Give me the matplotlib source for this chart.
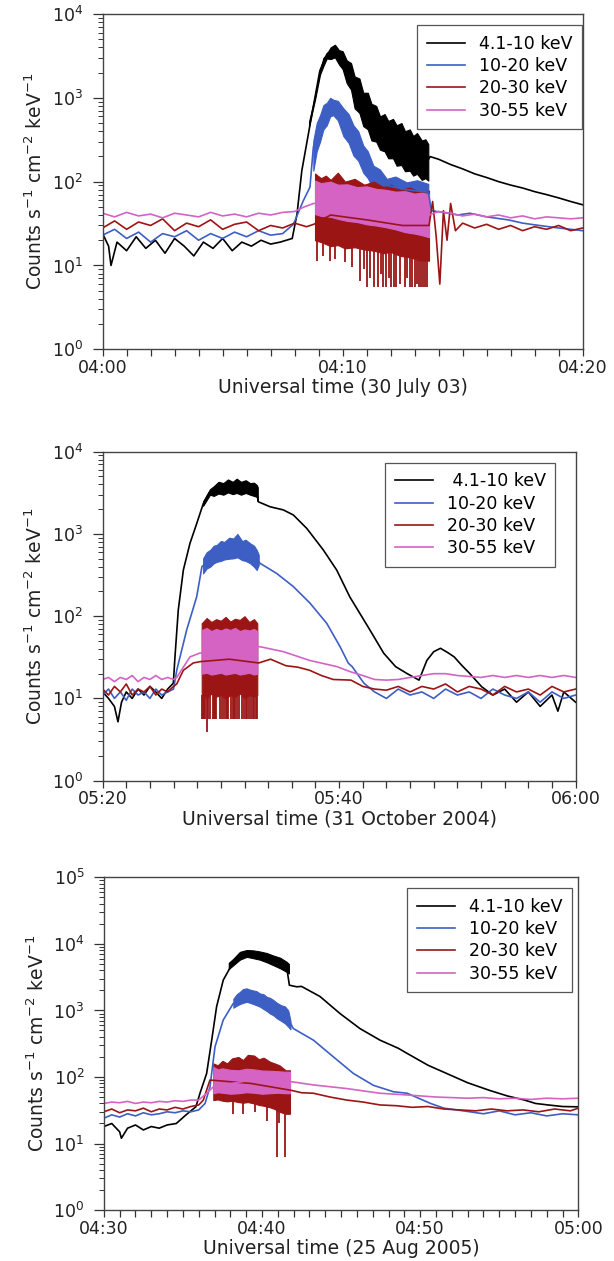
import numpy as np
import matplotlib
matplotlib.use("Agg")
import matplotlib.pyplot as plt
from matplotlib.ticker import FixedLocator, LogLocator, NullFormatter

plt.rcParams['font.family'] = ['DejaVu Sans']
plt.rcParams['mathtext.fontset'] = 'dejavusans'

C_BLACK = '#000000'
C_BLUE = '#3d5fc4'
C_RED = '#9b1515'
C_PINK = '#d463c4'

channels = ['4.1-10 keV', '10-20 keV', '20-30 keV', '30-55 keV']

# ---------------- panel 1: 30 July 2003, minutes after 04:00 ----------------
p1_black_t = [0, .25, .35, .6, 1, 1.4, 1.8, 2.2, 2.6, 3, 3.4, 3.8, 4.2, 4.6, 5, 5.4, 5.8, 6.2, 6.6, 7, 7.4, 7.9,
              8.1, 8.3, 8.65, 8.85, 9.05, 9.35, 9.65, 10.2, 10.9, 11.6, 12.3, 12.9, 13.55, 13.65, 14, 14.5, 15,
              15.5, 16, 16.5, 17, 17.5, 18, 18.5, 19, 19.5, 20]
p1_black_y = [24, 17, 10, 19, 15, 22, 16, 20, 14, 21, 17, 13, 19, 16, 21, 15, 19, 17, 20, 18, 19, 21,
              41, 135, 490, 1020, 2100, 3340, 4000, 2200, 850, 420, 290, 220, 180, 199, 185, 160, 142,
              124, 112, 100, 91, 84, 76, 70, 64, 58, 53]
p1_black_band_t = [8.6, 8.85, 9.06, 9.2, 9.34, 9.5, 9.68, 9.85, 10.0, 10.17, 10.35, 10.5, 10.7, 10.86, 11.05,
                   11.2, 11.4, 11.56, 11.75, 11.9, 12.1, 12.25, 12.45, 12.6, 12.8, 12.94, 13.1, 13.3, 13.45, 13.57]
p1_black_band_hi = [520, 1050, 2150, 3000, 3300, 4000, 4300, 3700, 3600, 2800, 2600, 1800, 1700, 1150, 1150,
                    850, 800, 600, 640, 530, 560, 470, 500, 400, 420, 350, 380, 310, 320, 280]
p1_black_band_lo = [460, 950, 1900, 2400, 2950, 2900, 3040, 2500, 2200, 1500, 1250, 750, 660, 460, 420,
                    310, 300, 240, 230, 190, 190, 155, 158, 133, 135, 118, 124, 105, 110, 103]

p1_blue_t = [0, .5, 1, 1.5, 2, 2.5, 3, 3.5, 4, 4.5, 5, 5.5, 6, 6.5, 7, 7.5, 7.95, 8.36, 8.64, 8.78, 9.06,
             9.34, 9.61, 10.03, 10.45, 10.86, 11.28, 11.84, 12.67, 13.57, 13.7, 14.2, 14.8, 15.3, 16, 16.9,
             17.5, 18.2, 19, 19.5, 20]
p1_blue_y = [23, 27, 21, 25, 19, 24, 22, 26, 20, 24, 21, 25, 22, 26, 23, 24, 31, 59, 86, 257, 550,
             780, 870, 600, 320, 200, 120, 90, 80, 75, 45, 43, 40, 42, 38, 35, 32, 30, 28, 27, 26]
p1_blue_band_t = [8.78, 8.92, 9.06, 9.2, 9.34, 9.48, 9.61, 9.8, 10.03, 10.25, 10.45, 10.65, 10.86, 11.05,
                  11.28, 11.55, 11.84, 12.2, 12.67, 13.1, 13.57]
p1_blue_band_hi = [309, 500, 620, 820, 870, 1000, 950, 920, 750, 640, 470, 400, 270, 230, 155, 140, 108,
                   115, 98, 104, 94]
p1_blue_band_lo = [135, 230, 300, 420, 470, 600, 620, 540, 350, 290, 205, 178, 128, 110, 82, 80, 68, 70,
                   62, 64, 59]

p1_red_t = [0, .5, 1, 1.5, 2, 2.5, 3, 3.5, 4, 4.5, 5, 5.5, 6, 6.5, 7, 7.5, 8, 8.5, 8.8, 9.5, 11, 12.5,
            13.6, 13.75, 13.9, 14.05, 14.2, 14.35, 14.5, 14.7, 15, 15.5, 16, 16.5, 17, 17.5, 18, 18.5, 19,
            19.5, 20]
p1_red_y = [28, 34, 27, 33, 30, 36, 26, 32, 29, 35, 27, 31, 33, 26, 30, 28, 32, 29, 31, 40, 35, 30,
            30, 58, 22, 6, 45, 20, 55, 26, 32, 28, 31, 27, 30, 26, 29, 27, 30, 26, 28]
p1_red_band_t = [8.85, 9.1, 9.3, 9.5, 9.8, 10.1, 10.5, 10.9, 11.3, 11.7, 12, 12.4, 12.8, 13.2, 13.6]
p1_red_band_hi = [125, 110, 118, 105, 128, 100, 108, 92, 100, 86, 92, 80, 85, 76, 78]
p1_red_band_lo = [20, 19, 18, 17, 17.5, 16, 16.5, 15.5, 15, 14, 14.5, 13, 12.5, 11.5, 11.4]
p1_red_spike_t = [8.95, 9.2, 9.47, 9.7, 10.1, 10.4, 10.73, 10.9, 11.0, 11.15, 11.3, 11.49, 11.6, 11.7, 11.82,
                  11.95, 12.03, 12.15, 12.24, 12.4, 12.58, 12.7, 12.79, 12.9, 13.0, 13.1, 13.18, 13.28,
                  13.35, 13.45, 13.51]
p1_red_spike_y = [11.4, 13, 11.4, 12, 11, 9.5, 6.6, 9, 5.5, 7, 5.5, 5.5, 8, 5.5, 5.5,
                  7, 5.5, 5.5, 5.5, 6, 5.5, 7, 5.5, 5.5, 5.5, 6, 5.5, 5.5,
                  5.5, 5.5, 5.5]

p1_pink_t = [0, .5, 1, 1.5, 2, 2.5, 3, 3.5, 4, 4.5, 5, 5.5, 6, 6.5, 7, 7.5, 8, 8.4, 8.8, 11, 13.6, 14,
             14.5, 15, 15.5, 16, 16.5, 17, 17.5, 18, 18.5, 19, 19.5, 20]
p1_pink_y = [42, 38, 43, 39, 41, 37, 42, 40, 38, 43, 39, 41, 38, 42, 40, 43, 44, 50, 55, 50, 40, 44,
             42, 39, 41, 38, 40, 37, 39, 36, 38, 37, 36, 37]
p1_pink_band_t = [8.85, 9.1, 9.5, 9.8, 10.2, 10.6, 11, 11.4, 11.8, 12.2, 12.6, 13.0, 13.3, 13.6]
p1_pink_band_hi = [103, 96, 100, 92, 93, 86, 88, 82, 80, 76, 77, 72, 74, 71]
p1_pink_band_lo = [41, 39, 38, 36, 34, 33, 31, 30, 28.6, 27, 25, 24, 23, 21.7]

# ---------------- panel 2: 31 October 2004, minutes after 05:20 ----------------
p2_black_t = [0, .5, 1, 1.3, 1.6, 2, 2.5, 3, 3.5, 4, 4.5, 5, 5.5, 5.98, 6.12, 6.4, 6.83, 7.39, 7.96, 8.52,
              9.08, 10.2, 11.3, 12.5, 13.03, 13.17, 14.16, 15.28, 16.13, 17.26, 18.66, 19.8, 20.9, 22.45,
              23.77, 24.77, 25.76, 26.76, 27.42, 28.0, 28.57, 29.2, 29.73, 30.4, 31.06, 32.05, 33, 34, 35,
              36, 37, 38, 38.5, 39, 40]
p2_black_y = [12, 10, 8, 5.2, 9, 12, 10, 13, 11, 14, 12, 10, 13, 15.3, 32, 119, 365, 770, 1340, 2350,
              3250, 3600, 3700, 3600, 3300, 2460, 2140, 1960, 1700, 1170, 640, 363, 172, 74,
              35.5, 24.4, 20, 16.7, 29, 37, 40.7, 36, 32, 25, 20, 13.9, 11, 13, 9,
              12, 8, 11, 7, 12, 9]
p2_black_band_t = [8.5, 9.08, 9.4, 9.8, 10.21, 10.6, 11.0, 11.34, 11.7, 12.1, 12.47, 12.8, 13.03, 13.12]
p2_black_band_hi = [2500, 3500, 3800, 4300, 4150, 4600, 4300, 4700, 4300, 4500, 4150, 4200, 3940, 3700]
p2_black_band_lo = [2200, 3000, 2900, 3100, 3000, 3200, 3050, 3150, 3000, 3150, 3000, 2900, 2830, 2500]

p2_blue_t = [0, .5, 1, 1.5, 2, 2.5, 3, 3.5, 4, 4.5, 5, 5.5, 6, 6.27, 7.11, 7.96, 8.4, 9.65, 11.06, 12.47,
             13.03, 13.31, 14.72, 16.13, 17.54, 18.95, 20.08, 20.78, 21.1, 22.1, 23, 24, 25, 26, 27, 28,
             29, 30, 31, 32, 33, 34, 35, 36, 37, 38, 39, 40]
p2_blue_y = [11, 13, 10, 12, 9.5, 13, 11, 12, 10, 13, 11, 12, 13, 22, 68, 173, 400, 600, 700, 600,
             500, 440, 331, 229, 144, 82, 42.6, 26.8, 24.4, 15.3, 12, 10, 13, 11, 12, 10,
             13, 11, 12, 10, 13, 11, 10, 12, 9, 12, 10, 11]
p2_blue_band_t = [8.5, 8.8, 9.1, 9.4, 9.65, 10.0, 10.3, 10.7, 11.06, 11.4, 11.8, 12.1, 12.47, 12.8, 13.03, 13.2]
p2_blue_band_hi = [505, 600, 640, 720, 735, 820, 800, 900, 880, 1000, 820, 850, 770, 720, 640, 560]
p2_blue_band_lo = [331, 380, 400, 440, 458, 470, 490, 500, 505, 520, 480, 470, 440, 400, 364, 420]

p2_red_t = [0, .5, 1, 1.5, 2, 2.5, 3, 3.5, 4, 4.5, 5, 5.5, 6, 6.27, 6.83, 7.67, 8.24, 10.7, 13.2, 14.2,
            15.5, 16.5, 17.5, 18.5, 19.5, 21, 22, 23, 24, 25, 26, 27, 28, 29, 30, 31, 32, 33, 34, 35,
            36, 37, 38, 39, 40]
p2_red_y = [13, 11, 14, 12, 15, 11, 13, 12, 14, 11, 13, 12, 14, 15, 22, 27, 28, 30, 27, 30,
            25, 24, 22, 19, 17, 16.7, 14, 13, 12.6, 14, 12, 14, 13, 15, 12, 14, 13, 11, 14, 12,
            13, 11, 14, 12, 13]
p2_red_band_t = [8.38, 8.8, 9.2, 9.6, 10.0, 10.4, 10.8, 11.2, 11.6, 12.0, 12.4, 12.8, 13.08]
p2_red_band_hi = [82, 95, 85, 92, 88, 98, 86, 93, 90, 100, 85, 92, 82]
p2_red_band_lo = [11, 10, 11.5, 10.5, 11, 10, 11, 10.5, 11.5, 10, 11, 10.5, 11]
p2_red_spike_t = [8.42, 8.5, 8.6, 8.7, 8.8, 8.95, 9.1, 9.3, 9.4, 9.5, 9.62, 9.9, 10.1, 10.25, 10.4, 10.5,
                  10.6, 10.9, 11.0, 11.1, 11.2, 11.4, 11.56, 11.8, 11.96, 12.1, 12.24, 12.4, 12.52, 12.7,
                  12.8, 12.95, 13.03]
p2_red_spike_y = [5.7, 5.7, 5.7, 5.7, 3.9, 5.7, 5.7, 5.7, 5.7, 5.7, 5.7, 5.7, 5.7, 5.7, 5.7, 5.7,
                  5.7, 5.7, 5.7, 5.7, 5.7, 5.7, 5.7, 5.7, 5.7, 5.7, 5.7, 5.7, 5.7, 5.7,
                  5.7, 5.7, 5.7]

p2_pink_t = [0, .5, 1, 1.5, 2, 2.5, 3, 3.5, 4, 4.5, 5, 5.5, 6, 6.27, 7.39, 8.2, 10.7, 13.3, 15.3, 17.5,
             19.8, 21, 22, 23, 24, 25, 26, 27, 28, 29, 30, 31, 32, 33, 34, 35, 36, 37, 38, 39, 40]
p2_pink_y = [17, 18, 16, 18, 17, 19, 16, 18, 17, 19, 17, 18, 17, 18, 32, 35.5, 40, 42.6, 37, 29,
             24.4, 21, 19, 17, 16.7, 17, 18, 19, 20, 20, 19, 18.5, 18, 19, 18, 19, 18, 19, 18, 19, 18]
p2_pink_band_t = [8.38, 8.8, 9.2, 9.6, 10.0, 10.4, 10.8, 11.2, 11.6, 12.0, 12.4, 12.8, 13.08]
p2_pink_band_hi = [68, 72, 66, 70, 67, 71, 68, 72, 66, 69, 67, 70, 66]
p2_pink_band_lo = [20, 20.5, 19.5, 20, 20.5, 19.5, 20, 20.5, 19.5, 20, 20.5, 19.5, 20]

# ---------------- panel 3: 25 August 2005, minutes after 04:30 ----------------
p3_black_t = [0, .5, 1, 1.11, 1.5, 2, 2.5, 3, 3.5, 4, 4.58, 5.2, 5.82, 6.08, 6.5, 6.82, 7.13, 7.55, 8.19,
              9.03, 9.87, 10.71, 11.56, 11.73, 12.19, 12.5, 13.67, 14.93, 16.19, 17.46, 18.62, 19.18, 20.5,
              21.9, 23, 24.38, 25.5, 26.6, 27.3, 28.09, 29, 30]
p3_black_y = [18, 20, 15, 12, 17, 19, 16, 18, 17, 19, 20, 27, 35.7, 57, 113, 358, 1140, 2860, 5370,
              7200, 6800, 5700, 4500, 2400, 2270, 2300, 1620, 900, 535, 358, 270, 226, 150,
              107, 82, 63, 52, 45, 40, 38, 36, 35.6]
p3_black_band_t = [7.9, 8.19, 8.6, 9.03, 9.45, 9.87, 10.3, 10.71, 11.15, 11.56, 11.7]
p3_black_band_hi = [5200, 6000, 7600, 8100, 8000, 7700, 7300, 6700, 6200, 5370, 5000]
p3_black_band_lo = [4200, 4800, 5800, 6400, 6100, 5800, 5300, 4800, 4300, 3800, 3600]

p3_blue_t = [0, .5, 1, 1.5, 2, 2.5, 3, 3.5, 4, 4.5, 5, 5.5, 6, 6.4, 6.71, 7.03, 7.55, 8.19, 9.87, 11.66,
             11.98, 13.25, 14.51, 15.78, 17.04, 18.31, 19.18, 20.66, 21.5, 22.3, 23.14, 24, 25, 26, 27,
             28, 29, 30]
p3_blue_y = [24, 27, 25, 28, 26, 29, 27, 28, 30, 29, 31, 30, 32, 40, 71, 285, 720, 1280, 1450, 750,
             535, 358, 201, 113, 75, 60, 57, 40, 34, 32, 30, 28, 31, 27, 29,
             26, 28, 27]
p3_blue_band_t = [8.19, 8.4, 8.6, 8.8, 9.03, 9.25, 9.45, 9.65, 9.87, 10.1, 10.3, 10.5, 10.71, 10.95, 11.2,
                  11.45, 11.66, 11.8]
p3_blue_band_hi = [1500, 1750, 1900, 2100, 2150, 2050, 2000, 1950, 1800, 1750, 1600, 1550, 1440, 1300, 1200,
                   1150, 1000, 700]
p3_blue_band_lo = [1100, 1180, 1250, 1300, 1350, 1300, 1250, 1200, 1140, 1050, 980, 900, 850, 760, 700,
                   640, 570, 520]

p3_red_t = [0, .5, 1, 1.5, 2, 2.5, 3, 3.5, 4, 4.5, 5, 5.5, 6, 6.29, 6.71, 9.3, 11.85, 12.5, 13.25, 14.3,
            15.36, 16.4, 17.46, 18.5, 19.5, 20.5, 21.5, 22.5, 23.5, 24.5, 25.5, 26.5, 27.5, 28.5, 29.5, 30]
p3_red_y = [30, 33, 29, 32, 31, 34, 30, 33, 32, 35, 33, 36, 38, 45, 90, 80, 63, 58, 57, 50,
            45, 42, 38, 37, 35, 36, 33, 32, 31, 33, 31, 32, 30, 33, 31, 34]
p3_red_band_t = [6.92, 7.2, 7.5, 7.8, 8.1, 8.5, 8.8, 9.1, 9.5, 9.8, 10.1, 10.5, 10.8, 11.1, 11.5, 11.77]
p3_red_band_hi = [160, 150, 175, 160, 190, 200, 180, 215, 210, 185, 195, 170, 160, 150, 126, 126]
p3_red_band_lo = [45, 46, 44, 43, 44, 42, 41, 42, 40, 38, 37, 35, 33, 30, 28, 28]
p3_red_spike_t = [8.19, 8.82, 9.56, 10.29, 10.92, 11.1, 11.47]
p3_red_spike_y = [28, 28, 30, 22, 6.3, 20, 6.3]

p3_pink_t = [0, .5, 1, 1.5, 2, 2.5, 3, 3.5, 4, 4.5, 5, 5.5, 6, 6.5, 6.92, 9.3, 11.85, 13.25, 15.36, 17.46,
             19, 20, 21, 22, 23, 24, 25, 26, 27, 28, 29, 30]
p3_pink_y = [40, 42, 41, 43, 40, 42, 41, 43, 42, 44, 43, 45, 45, 57, 71, 90, 85, 76, 67, 57,
             54, 52, 50, 49, 48, 49, 47, 48, 46, 48, 47, 48]
p3_pink_band_t = [6.92, 7.2, 7.5, 8.0, 8.5, 9.0, 9.5, 10.0, 10.5, 11.0, 11.5, 11.77]
p3_pink_band_hi = [142, 130, 135, 128, 126, 133, 130, 125, 124, 122, 120, 120]
p3_pink_band_lo = [57, 59, 58, 56, 57, 59, 58, 56, 57, 58, 57, 57]

# axes / ticks
p1_xticks = [0, 10, 20]
p1_xlabels = ['04:00', '04:10', '04:20']
p2_xticks = [0, 20, 40]
p2_xlabels = ['05:20', '05:40', '06:00']
p3_xticks = [0, 10, 20, 30]
p3_xlabels = ['04:30', '04:40', '04:50', '05:00']

panels = [
    dict(rect=[0.1671, 0.7230, 0.7818, 0.2659], xmax=20, minor=1, ytop=4,
         xt=p1_xticks, xl=p1_xlabels, xlabel='Universal time (30 July 03)',
         leg=(0.999, 0.967), labels=channels,
         series=[(C_BLACK, p1_black_t, p1_black_y, p1_black_band_t, p1_black_band_lo, p1_black_band_hi),
                 (C_BLUE, p1_blue_t, p1_blue_y, p1_blue_band_t, p1_blue_band_lo, p1_blue_band_hi),
                 (C_RED, p1_red_t, p1_red_y, p1_red_band_t, p1_red_band_lo, p1_red_band_hi),
                 (C_PINK, p1_pink_t, p1_pink_y, p1_pink_band_t, p1_pink_band_lo, p1_pink_band_hi)],
         spikes=(p1_red_spike_t, p1_red_spike_y, p1_red_band_t, p1_red_band_lo)),
    dict(rect=[0.1671, 0.3809, 0.7704, 0.2609], xmax=40, minor=2, ytop=4,
         xt=p2_xticks, xl=p2_xlabels, xlabel='Universal time (31 October 2004)',
         leg=(0.957, 0.966), labels=[' 4.1-10 keV'] + channels[1:],
         series=[(C_BLACK, p2_black_t, p2_black_y, p2_black_band_t, p2_black_band_lo, p2_black_band_hi),
                 (C_BLUE, p2_blue_t, p2_blue_y, p2_blue_band_t, p2_blue_band_lo, p2_blue_band_hi),
                 (C_RED, p2_red_t, p2_red_y, p2_red_band_t, p2_red_band_lo, p2_red_band_hi),
                 (C_PINK, p2_pink_t, p2_pink_y, p2_pink_band_t, p2_pink_band_lo, p2_pink_band_hi)],
         spikes=(p2_red_spike_t, p2_red_spike_y, p2_red_band_t, p2_red_band_lo)),
    dict(rect=[0.1691, 0.0404, 0.7728, 0.2638], xmax=30, minor=1, ytop=5,
         xt=p3_xticks, xl=p3_xlabels, xlabel='Universal time (25 Aug 2005)',
         leg=(0.986, 0.968), labels=channels,
         series=[(C_BLACK, p3_black_t, p3_black_y, p3_black_band_t, p3_black_band_lo, p3_black_band_hi),
                 (C_BLUE, p3_blue_t, p3_blue_y, p3_blue_band_t, p3_blue_band_lo, p3_blue_band_hi),
                 (C_RED, p3_red_t, p3_red_y, p3_red_band_t, p3_red_band_lo, p3_red_band_hi),
                 (C_PINK, p3_pink_t, p3_pink_y, p3_pink_band_t, p3_pink_band_lo, p3_pink_band_hi)],
         spikes=(p3_red_spike_t, p3_red_spike_y, p3_red_band_t, p3_red_band_lo)),
]

fig = plt.figure(figsize=(6.14, 12.61), dpi=100)

for p in panels:
    ax = fig.add_axes(p['rect'])
    ax.set_yscale('log')
    for (col, t, y, bt, blo, bhi), lab in zip(p['series'], p['labels']):
        ax.plot(t, y, color=col, lw=1.2, label=lab)
        ax.fill_between(bt, blo, bhi, color=col, lw=0.8, edgecolor=col)
        if col == C_RED:
            st, sy, rt, rlo = p['spikes']
            ax.vlines(st, sy, np.interp(st, rt, rlo), color=C_RED, lw=1.3)

    ax.set_xlim(0, p['xmax'])
    ax.set_ylim(1, 10 ** p['ytop'])
    ax.set_xticks(p['xt'])
    ax.set_xticklabels(p['xl'])
    ax.xaxis.set_minor_locator(FixedLocator(np.arange(0, p['xmax'] + 0.01, p['minor'])))
    ax.yaxis.set_major_locator(FixedLocator([10 ** k for k in range(p['ytop'] + 1)]))
    ax.set_yticklabels(['$10^{%d}$' % k for k in range(p['ytop'] + 1)])
    ax.yaxis.set_minor_locator(LogLocator(base=10, subs=np.arange(2, 10)))
    ax.yaxis.set_minor_formatter(NullFormatter())
    ax.tick_params(axis='x', which='major', direction='out', length=5, width=0.9, pad=2,
                   labelsize=12.5, colors='#333333', labelcolor='#222222')
    ax.tick_params(axis='y', which='major', direction='out', length=7, width=0.9, pad=7,
                   labelsize=12.5, colors='#333333', labelcolor='#222222')
    ax.tick_params(axis='x', which='minor', direction='out', length=5, width=0.9, colors='#333333')
    ax.tick_params(axis='y', which='minor', direction='out', length=3.5, width=0.7, colors='#333333')
    ax.tick_params(top=False, right=False, which='both')
    for s in ax.spines.values():
        s.set_color('#444444')
        s.set_linewidth(1.0)

    ax.set_xlabel(p['xlabel'], fontsize=13.5, color='#222222', labelpad=1)
    ax.set_ylabel('Counts s$^{-1}$ cm$^{-2}$ keV$^{-1}$', fontsize=13.5, color='#222222', labelpad=4)

    leg = ax.legend(loc='upper right', bbox_to_anchor=p['leg'], fontsize=12.5, frameon=True,
                    fancybox=False, framealpha=1, edgecolor='#555555', handlelength=2.2,
                    labelspacing=0.25, borderpad=0.55, handletextpad=0.8, borderaxespad=0)
    leg.get_frame().set_linewidth(0.9)

fig.savefig('out.png', dpi=100)
